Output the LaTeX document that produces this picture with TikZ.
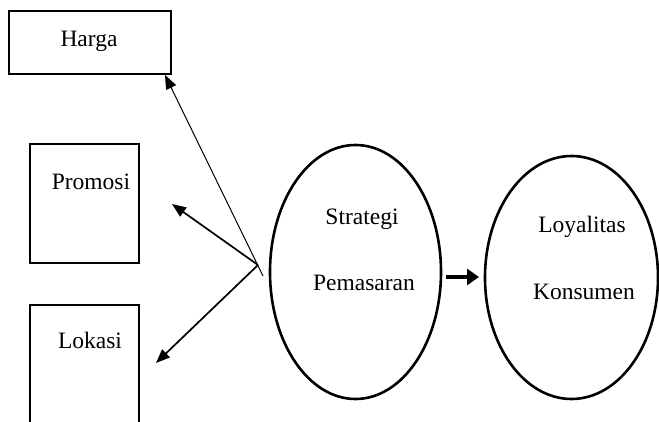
\documentclass[tikz,border=0pt]{standalone}
\usepackage{fontspec}
\setmainfont{Liberation Serif}
\usetikzlibrary{shapes.geometric,arrows.meta}
\tikzstyle{varbox} = [draw=black,line width=1.3pt,inner sep=0pt]
\tikzstyle{varellipse} = [draw=black,line width=1.3pt,ellipse,inner sep=0pt]
\tikzstyle{vartext} = [font=\fontsize{11.75}{14}\selectfont,inner sep=0pt]
\tikzstyle{tip} = [-{Triangle[length=7pt,width=5.5pt]}]

\begin{document}
\begin{tikzpicture}[x=0.5pt,y=-0.5pt]
  \useasboundingbox (0,0) rectangle (659,422);
  \clip (0,0) rectangle (659,422);
  % boxes
  \node[varbox,minimum width=81pt,minimum height=31.5pt] (harga) at (90,42.5) {};
  \node[varbox,minimum width=54.5pt,minimum height=59.5pt] (promosi) at (84.5,203.5) {};
  \node[varbox,minimum width=54.5pt,minimum height=70pt] (lokasi) at (84.5,375) {};
  \node[vartext] (hargaText) at (89,41) {Harga};
  \node[vartext] (promosiText) at (91,182) {Promosi};
  \node[vartext] (lokasiText) at (90,340) {Lokasi};
  % ellipses
  \node[varellipse,minimum width=85.5pt,minimum height=127pt] (strategi) at (355.5,272) {};
  \node[varellipse,minimum width=86.5pt,minimum height=121.5pt] (loyalitas) at (571.5,277.5) {};
  \node[vartext] (strategiText) at (362,219) {Strategi};
  \node[vartext] (pemasaranText) at (364,283) {Pemasaran};
  \node[vartext] (loyalitasText) at (582,227) {Loyalitas};
  \node[vartext] (konsumenText) at (584,292) {Konsumen};
  % arrows
  \coordinate (src) at (258,265);
  \coordinate (srcLow) at (263,276);
  \coordinate (hargaTip) at (165,75);
  \coordinate (promosiTip) at (172,204);
  \coordinate (lokasiTip) at (156,363);
  \coordinate (midStart) at (446,277);
  \coordinate (midEnd) at (479,277);
  \draw[tip,line width=0.5pt] (srcLow) -- (hargaTip);
  \draw[tip,line width=0.85pt] (src) -- (promosiTip);
  \draw[tip,line width=0.85pt] (src) -- (lokasiTip);
  \draw[-{Triangle[length=6pt,width=8pt]},line width=2pt] (midStart) -- (midEnd);
\end{tikzpicture}
\end{document}
